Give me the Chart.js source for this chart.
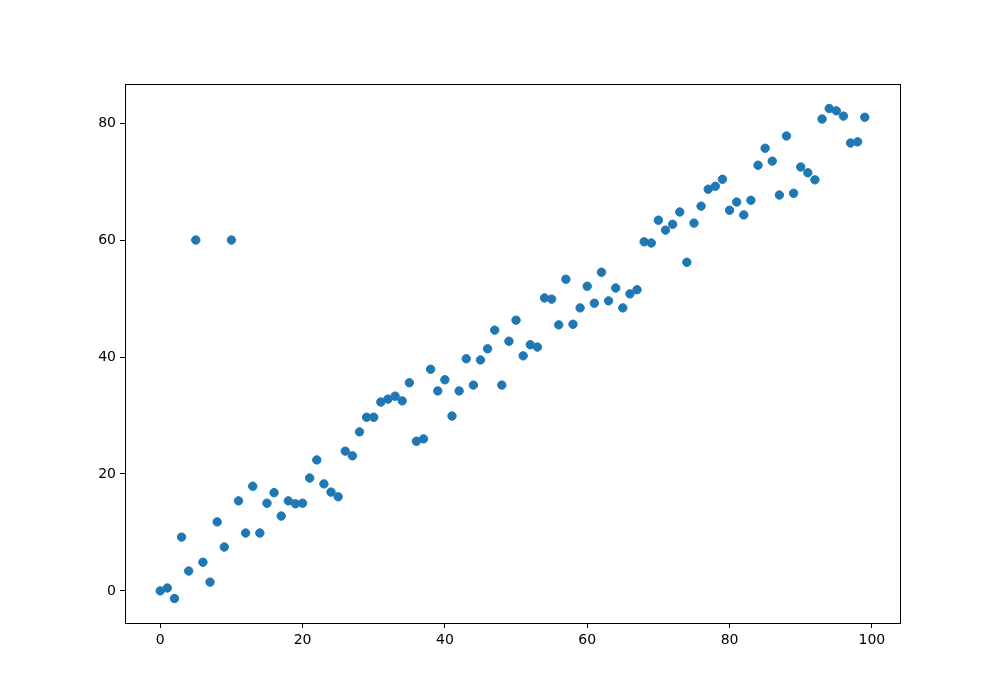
<!DOCTYPE html>
<html>
<head>
<meta charset="utf-8">
<script src="https://cdn.jsdelivr.net/npm/chart.js@4.4.1/dist/chart.umd.min.js"></script>
<style>
  html, body { margin: 0; padding: 0; background: #fff; }
  canvas { display: block; }
</style>
</head>
<body>
<canvas id="chart" width="1000" height="700"></canvas>
<script>
const xValues = [
  0, 1, 2, 3, 4, 5, 6, 7, 8, 9,
  10, 11, 12, 13, 14, 15, 16, 17, 18, 19,
  20, 21, 22, 23, 24, 25, 26, 27, 28, 29,
  30, 31, 32, 33, 34, 35, 36, 37, 38, 39,
  40, 41, 42, 43, 44, 45, 46, 47, 48, 49,
  50, 51, 52, 53, 54, 55, 56, 57, 58, 59,
  60, 61, 62, 63, 64, 65, 66, 67, 68, 69,
  70, 71, 72, 73, 74, 75, 76, 77, 78, 79,
  80, 81, 82, 83, 84, 85, 86, 87, 88, 89,
  90, 91, 92, 93, 94, 95, 96, 97, 98, 99
];
const yValues = [
  0, 0.5, -1.3, 9.2, 3.4, 60, 4.9, 1.5, 11.8, 7.5,
  60, 15.4, 9.9, 17.9, 9.9, 15.0, 16.8, 12.8, 15.4, 14.9,
  15.0, 19.3, 22.4, 18.3, 16.9, 16.1, 23.9, 23.1, 27.2, 29.7,
  29.7, 32.3, 32.8, 33.3, 32.5, 35.6, 25.6, 26.0, 37.9, 34.2,
  36.1, 29.9, 34.2, 39.7, 35.2, 39.5, 41.4, 44.6, 35.2, 42.7,
  46.3, 40.2, 42.1, 41.7, 50.1, 49.9, 45.5, 53.3, 45.6, 48.4,
  52.1, 49.2, 54.5, 49.6, 51.8, 48.4, 50.8, 51.5, 59.7, 59.5,
  63.4, 61.7, 62.7, 64.8, 56.2, 62.9, 65.8, 68.7, 69.2, 70.4,
  65.1, 66.5, 64.3, 66.8, 72.8, 75.7, 73.5, 67.7, 77.8, 68.0,
  72.5, 71.5, 70.3, 80.7, 82.5, 82.1, 81.2, 76.6, 76.8, 81.0
];
const xTicks = [0, 20, 40, 60, 80, 100];
const yTicks = [0, 20, 40, 60, 80];

// matplotlib style 5% margins around the data
function withMargin(arr) {
  const lo = Math.min(...arr), hi = Math.max(...arr);
  const m = (hi - lo) * 0.05;
  return { min: lo - m, max: hi + m };
}
const xLim = withMargin(xValues);
const yLim = withMargin(yValues);

const frame = {
  id: 'frame',
  afterDraw(chart) {
    const { ctx, chartArea: a } = chart;
    ctx.save();
    ctx.strokeStyle = '#000';
    ctx.lineWidth = 1;
    ctx.strokeRect(Math.round(a.left) + 0.5, Math.round(a.top) + 0.5,
      Math.round(a.right - a.left), Math.round(a.bottom - a.top));
    ctx.restore();
  }
};

const tickFont = { family: 'DejaVu Sans', size: 14 };

new Chart(document.getElementById('chart'), {
  type: 'scatter',
  data: {
    datasets: [{
      data: xValues.map((x, i) => ({ x, y: yValues[i] })),
      backgroundColor: '#1f77b4',
      borderColor: '#1f77b4',
      borderWidth: 1,
      pointRadius: 4.2,
      pointHoverRadius: 4.2
    }]
  },
  options: {
    responsive: false,
    animation: false,
    layout: { padding: { left: 85, right: 100, top: 84, bottom: 37 } },
    plugins: { legend: { display: false }, tooltip: { enabled: false } },
    scales: {
      x: {
        type: 'linear',
        min: xLim.min,
        max: xLim.max,
        afterBuildTicks: s => { s.ticks = xTicks.map(v => ({ value: v })); },
        afterFit: s => { s.height = 40; },
        border: { display: false },
        grid: { drawOnChartArea: false, drawTicks: true, tickLength: 5, color: '#000' },
        ticks: { color: '#000', font: tickFont, padding: 4, maxRotation: 0 }
      },
      y: {
        type: 'linear',
        min: yLim.min,
        max: yLim.max,
        afterBuildTicks: s => { s.ticks = yTicks.map(v => ({ value: v })); },
        afterFit: s => { s.width = 40; },
        border: { display: false },
        grid: { drawOnChartArea: false, drawTicks: true, tickLength: 5, color: '#000' },
        ticks: { color: '#000', font: tickFont, padding: 4 }
      }
    }
  },
  plugins: [frame]
});
</script>
</body>
</html>
